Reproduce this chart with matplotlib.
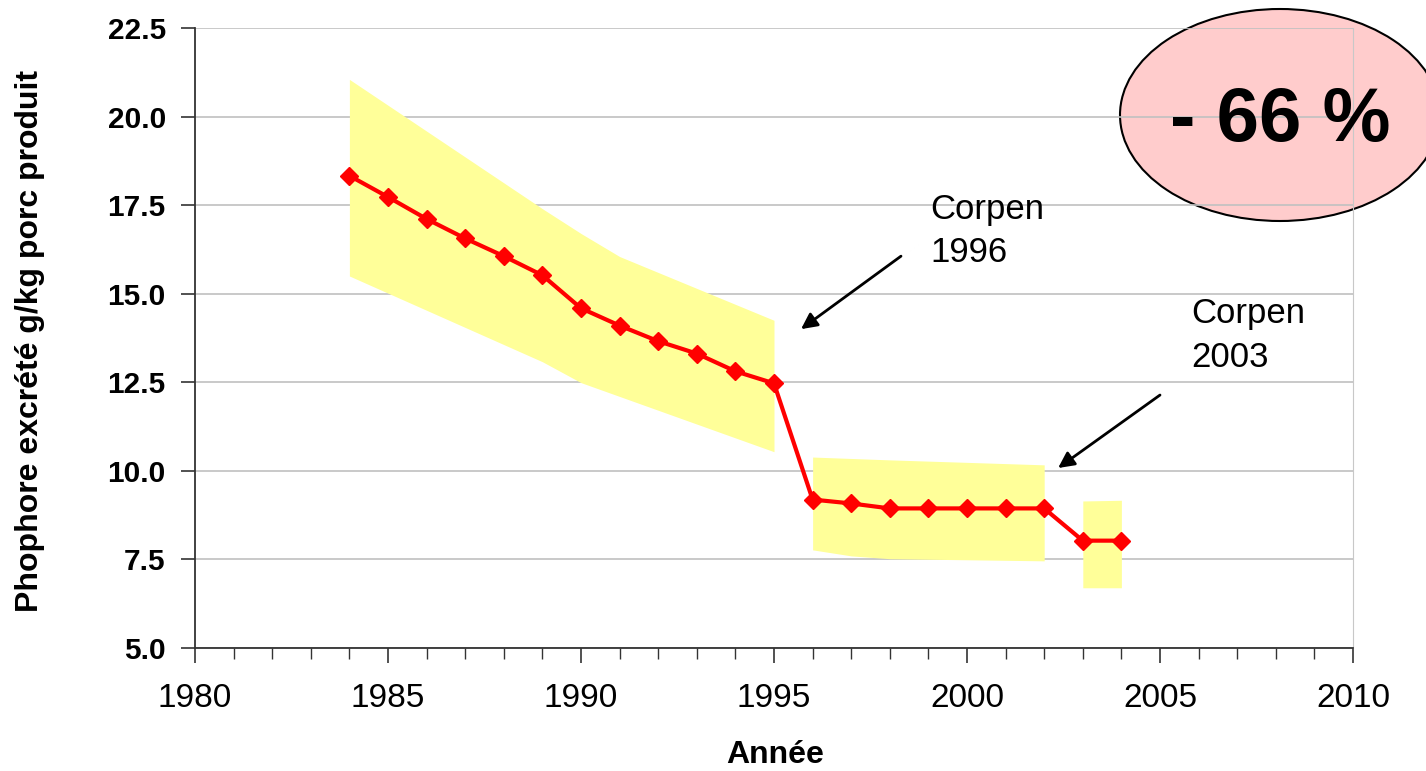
import matplotlib
matplotlib.use("Agg")
import matplotlib.pyplot as plt
from matplotlib.patches import Ellipse
from matplotlib.ticker import MultipleLocator, FormatStrFormatter

plt.rcParams['font.family'] = ['Liberation Sans', 'DejaVu Sans']

years = [1984, 1985, 1986, 1987, 1988, 1989, 1990, 1991, 1992, 1993, 1994, 1995,
         1996, 1997, 1998, 1999, 2000, 2001, 2002, 2003, 2004]
values = [18.33, 17.73, 17.11, 16.56, 16.06, 15.52, 14.59, 14.10, 13.66, 13.31, 12.81, 12.47,
          9.19, 9.08, 8.94, 8.94, 8.94, 8.94, 8.94, 8.03, 8.03]

band1_x = [1984, 1989, 1990, 1991, 1995]
band1_upper = [21.05, 17.4, 16.70, 16.05, 14.25]
band1_lower = [15.50, 13.08, 12.49, 12.1, 10.54]

band2_x = [1996, 1997, 1998, 2002]
band2_upper = [10.39, 10.35, 10.31, 10.17]
band2_lower = [7.77, 7.60, 7.52, 7.46]

band3_x = [2003, 2004]
band3_upper = [9.15, 9.17]
band3_lower = [6.70, 6.70]

fig = plt.figure(figsize=(14.26, 7.71), dpi=100)
ax = fig.add_axes([195/1426, 1-648/771, (1353-195)/1426, (648-28)/771])

band_color = '#ffff99'
ax.fill_between(band1_x, band1_lower, band1_upper, color=band_color, lw=0, zorder=1)
ax.fill_between(band2_x, band2_lower, band2_upper, color=band_color, lw=0, zorder=1)
ax.fill_between(band3_x, band3_lower, band3_upper, color=band_color, lw=0, zorder=1)

ax.plot(years, values, color='#ff0000', lw=3, marker='D', markersize=9,
        markeredgecolor='#ff0000', zorder=3)

ax.set_xlim(1980, 2010)
ax.set_ylim(5.0, 22.5)
ax.xaxis.set_major_locator(MultipleLocator(5))
ax.xaxis.set_minor_locator(MultipleLocator(1))
ax.yaxis.set_major_locator(MultipleLocator(2.5))
ax.yaxis.set_major_formatter(FormatStrFormatter('%.1f'))

ax.set_axisbelow(True)
ax.grid(axis='y', color='#c0c0c0', lw=1.2, zorder=0.5)
ax.spines['top'].set_visible(False)
ax.spines['right'].set_color('#c8c8c8')
ax.spines['left'].set_color('#333333')
ax.spines['bottom'].set_color('#333333')
ax.spines['left'].set_linewidth(1.3)
ax.spines['bottom'].set_linewidth(1.3)

ax.tick_params(axis='x', which='major', direction='out', length=11, width=1.2,
               labelsize=24, pad=14, color='#333333')
ax.tick_params(axis='x', which='minor', direction='out', length=8, width=1.0, color='#333333')
ax.tick_params(axis='y', which='major', direction='out', length=10, width=1.2,
               labelsize=21.5, pad=11, color='#333333')
for lab in ax.get_yticklabels():
    lab.set_fontweight('bold')

ax.set_xlabel('Année', fontsize=23, fontweight='bold', labelpad=14)
ax.set_ylabel('Phophore excrété g/kg porc produit', fontsize=23, fontweight='bold')
ax.yaxis.set_label_coords(-(195-30)/1158, (648-341)/620)
ax.xaxis.set_label_coords((775-195)/1158, -(755-648)/620)
ax.xaxis.label.set_va('center')
ax.yaxis.label.set_va('center')

# annotations
arrow_kw = dict(arrowstyle='-|>', color='black', lw=2, mutation_scale=24, shrinkA=0, shrinkB=0)
ax.annotate('', xy=(1995.7, 14.0), xytext=(1998.29, 16.06), arrowprops=arrow_kw, zorder=4)
ax.annotate('', xy=(2002.36, 10.08), xytext=(2005.0, 12.14), arrowprops=arrow_kw, zorder=4)
ax.text(1999.05, 16.77, 'Corpen\n1996', fontsize=25, ha='left', va='center', linespacing=1.4)
ax.text(2005.8, 13.82, 'Corpen\n2003', fontsize=25, ha='left', va='center', linespacing=1.4)

# ellipse in axes fraction
ex = (1280-195)/1158
ey = (648-115)/620
ell = Ellipse((ex, ey), width=320/1158, height=212/620, transform=ax.transAxes,
              facecolor='#ffcccc', edgecolor='black', lw=1.5, clip_on=False, zorder=0.4)
ax.add_patch(ell)
ax.text(ex, (648-121)/620, '- 66 %', transform=ax.transAxes, fontsize=55, fontweight='bold',
        ha='center', va='center', zorder=5)

fig.savefig('out.png', dpi=100)
